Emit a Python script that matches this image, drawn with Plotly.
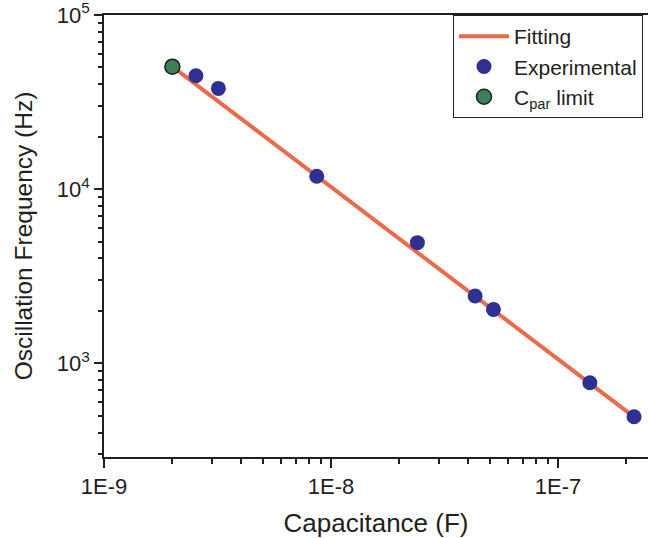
import numpy as np
import plotly.graph_objects as go

# Measured oscillation frequency vs. load capacitance
exp_cap = [2.54e-9, 3.19e-9, 8.65e-9, 2.40e-8, 4.31e-8, 5.19e-8, 1.38e-7, 2.16e-7]
exp_freq = [44800, 37900, 11850, 4930, 2435, 2040, 774, 493]

# Parasitic-capacitance limit point
cpar_cap = [2.0e-9]
cpar_freq = [50500]

# Power-law fit endpoints
fit_cap = [2.0e-9, 2.16e-7]
fit_freq = [50500, 493]

x_ticks = [1e-9, 1e-8, 1e-7]
x_tick_text = ["1E-9", "1E-8", "1E-7"]
y_ticks = [1e3, 1e4, 1e5]
y_tick_text = ["10<sup>3</sup>", "10<sup>4</sup>", "10<sup>5</sup>"]

FONT = "Liberation Sans, Arial, sans-serif"
INK = "#231f20"

minor_x = [m * 10.0 ** e for e in (-9, -8, -7) for m in range(2, 10)]
minor_y = [m * 10.0 ** e for e in (2, 3, 4) for m in range(2, 10)]

fig = go.Figure()
fig.add_trace(go.Scatter(
    x=fit_cap, y=fit_freq, mode="lines", name="Fitting",
    line=dict(color="#ec6a48", width=4),
))
fig.add_trace(go.Scatter(
    x=exp_cap, y=exp_freq, mode="markers", name="Experimental",
    marker=dict(color="#2e3192", size=15, line=dict(width=0)),
))
fig.add_trace(go.Scatter(
    x=cpar_cap, y=cpar_freq, mode="markers", name="C<sub>par</sub> limit",
    marker=dict(color="#3b8058", size=15, line=dict(color=INK, width=1.5)),
))

fig.update_layout(
    width=648, height=538,
    margin=dict(l=104, r=0, t=15, b=81),
    paper_bgcolor="white", plot_bgcolor="white",
    font=dict(family=FONT, color=INK),
    showlegend=True,
    legend=dict(
        x=0.9908, y=1, xanchor="right", yanchor="top",
        bgcolor="white", bordercolor=INK, borderwidth=1,
        font=dict(size=21, family=FONT, color=INK),
        itemwidth=50, tracegroupgap=0,
    ),
)

fig.update_xaxes(
    type="log", range=[-9, -6.604],
    tickmode="array", tickvals=x_ticks, ticktext=x_tick_text,
    ticks="outside", ticklen=9, tickwidth=1.5, tickcolor=INK,
    tickfont=dict(size=22, family=FONT, color=INK),
    ticklabeloverflow="allow",
    minor=dict(tickmode="array", tickvals=minor_x, ticks="outside",
               ticklen=5, tickwidth=1.5, tickcolor=INK, showgrid=False),
    showline=True, linecolor=INK, linewidth=1.5, mirror=True,
    showgrid=False, zeroline=False,
    title=dict(text="Capacitance (F)", font=dict(size=26, family=FONT, color=INK),
               standoff=16),
)
fig.update_yaxes(
    type="log", range=[2.462, 5],
    tickmode="array", tickvals=y_ticks, ticktext=y_tick_text,
    ticks="outside", ticklen=8, tickwidth=1.5, tickcolor=INK,
    tickfont=dict(size=22, family=FONT, color=INK),
    ticklabeloverflow="allow",
    minor=dict(tickmode="array", tickvals=minor_y, ticks="outside",
               ticklen=4, tickwidth=1.5, tickcolor=INK, showgrid=False),
    showline=True, linecolor=INK, linewidth=1.5, mirror=False,
    showgrid=False, zeroline=False,
    title=dict(text="Oscillation Frequency (Hz)",
               font=dict(size=24.5, family=FONT, color=INK), standoff=17),
)

fig.write_html("out.html")
